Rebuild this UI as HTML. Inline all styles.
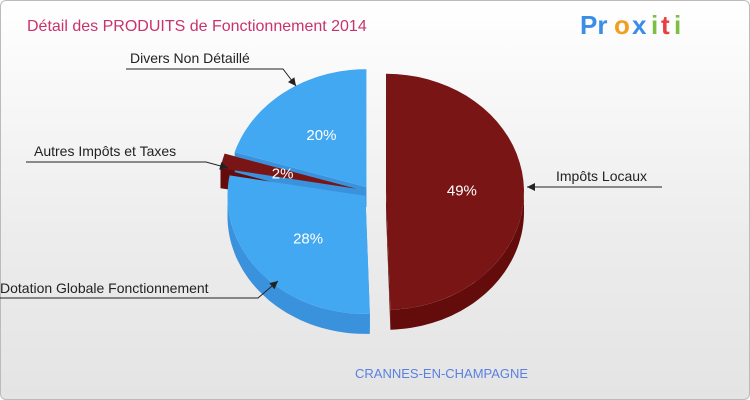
<!DOCTYPE html>
<html><head><meta charset="utf-8"><style>
body{margin:0;width:750px;height:400px;overflow:hidden;font-family:"Liberation Sans",sans-serif}
#bg{position:absolute;left:0;top:0;width:748px;height:398px;border:1px solid #bbb;border-radius:6px;background:linear-gradient(#fff,#ececec 60%,#e4e4e4)}
</style></head><body>
<div id="bg"></div>
<svg id="c" width="750" height="400" style="position:absolute;left:0;top:0">
<text x="27" y="31" font-size="16" fill="#c8336e">Détail des PRODUITS de Fonctionnement 2014</text>
<g font-size="26" font-weight="bold">
<text x="580" y="34" fill="#3a8ee6">Pr</text><text x="614" y="34" fill="#f0a020">o</text><text x="632" y="34" fill="#3a8ee6">x</text><text x="651" y="34" fill="#7bc043">i</text><text x="661" y="34" fill="#e84040">t</text><text x="674" y="34" fill="#7bc043">i</text>
</g>
<text x="355" y="378" font-size="13" fill="#5a80e0">CRANNES-EN-CHAMPAGNE</text>
<g id="pie"></g>
<g id="lab" font-size="14" fill="#222"></g>
</svg>
<script>
const labels=["Impôts Locaux","Dotation Globale Fonctionnement","Autres Impôts et Taxes","Divers Non Détaillé"];
const values=[49,28,2,20];
const pctText=["49%","28%","2%","20%"];
const tops=["#7a1515","#42a8f2","#7a1515","#42a8f2"];
const sides=["#640c0c","#3a92dc","#640c0c","#3a92dc"];
const explode=[16,6,14,6];
const cx=370,cy=192,rx=138,ry=118,depth=20;
const NS="http://www.w3.org/2000/svg";
const pie=document.getElementById('pie');
const total=values.reduce((a,b)=>a+b,0);
function pt(ox,oy,a,dy){return [ox+rx*Math.cos(a),oy+ry*Math.sin(a)+(dy||0)];}
let a0=-Math.PI/2;const sl=[];
values.forEach((v,i)=>{const a1=a0+v/total*2*Math.PI;const m=(a0+a1)/2;
sl.push({a0,a1,m,ox:cx+explode[i]*Math.cos(m),oy:cy+explode[i]*Math.sin(m)});a0=a1;});
function mk(d,fill,name){const p=document.createElementNS(NS,'path');p.setAttribute('d',d);p.setAttribute('fill',fill);


pie.appendChild(p);}
function arc(s,e,ox,oy,dy){let d='';const n=40;for(let k=0;k<=n;k++){const a=s+(e-s)*k/n;const p=pt(ox,oy,a,dy);d+=(k?'L':'')+p[0].toFixed(1)+','+p[1].toFixed(1);}return d;}
sl.forEach((s,i)=>{
 [s.a0,s.a1].forEach(a=>{const p=pt(s.ox,s.oy,a);mk(`M${s.ox},${s.oy}L${p[0]},${p[1]}L${p[0]},${p[1]+depth}L${s.ox},${s.oy+depth}Z`,sides[i],'slice-wall-'+i);});
});
sl.forEach((s,i)=>{
 const ranges=[[0,Math.PI],[2*Math.PI,3*Math.PI]];
 ranges.forEach(r=>{const st=Math.max(s.a0,r[0]),en=Math.min(s.a1,r[1]);if(en>st){
  const top=arc(st,en,s.ox,s.oy,0);const bot=arc(en,st,s.ox,s.oy,depth);
  mk('M'+top+'L'+bot+'Z',sides[i],'slice-side-'+i);}});
});
sl.forEach((s,i)=>{const p=pt(s.ox,s.oy,s.a0);mk(`M${s.ox},${s.oy}L${p[0]},${p[1]}L`+arc(s.a0,s.a1,s.ox,s.oy,0)+'Z',tops[i],'slice-'+i);
 const t=document.createElementNS(NS,'text');const lp=[s.ox+rx*0.55*Math.cos(s.m),s.oy+ry*0.55*Math.sin(s.m)+5];
 t.setAttribute('x',lp[0]);t.setAttribute('y',lp[1]);t.setAttribute('text-anchor','middle');t.setAttribute('font-size','15');t.setAttribute('fill','#fff');t.textContent=pctText[i];
 
 
 document.getElementById('c').appendChild(t);});
const lab=document.getElementById('lab');
const callouts=[[556,181,"start",[[662,187],[556,187],[527,187]]],[0,293,"start",[[0,298],[258,298],[278,281]]],[34,156,"start",[[26,162],[206,162],[228,168]]],[130,63,"start",[[126,69],[283,69],[296,86]]]];
callouts.forEach((c,i)=>{const t=document.createElementNS(NS,'text');t.setAttribute('x',c[0]);t.setAttribute('y',c[1]);t.textContent=labels[i];
 
 
 lab.appendChild(t);
 const pl=document.createElementNS(NS,'polyline');pl.setAttribute('points',c[3].map(p=>p.join(',')).join(' '));pl.setAttribute('fill','none');pl.setAttribute('stroke','#222');
 
 
 lab.appendChild(pl);
 const e=c[3][2],b=c[3][1];const ang=Math.atan2(e[1]-b[1],e[0]-b[0]);
 const h=document.createElementNS(NS,'path');const L=8,W=4;
 const p1=[e[0]-L*Math.cos(ang)+W*Math.sin(ang),e[1]-L*Math.sin(ang)-W*Math.cos(ang)],p2=[e[0]-L*Math.cos(ang)-W*Math.sin(ang),e[1]-L*Math.sin(ang)+W*Math.cos(ang)];
 h.setAttribute('d',`M${e[0]},${e[1]}L${p1}L${p2}Z`);h.setAttribute('fill','#222');
 
 
 lab.appendChild(h);});
</script>
</body></html>
